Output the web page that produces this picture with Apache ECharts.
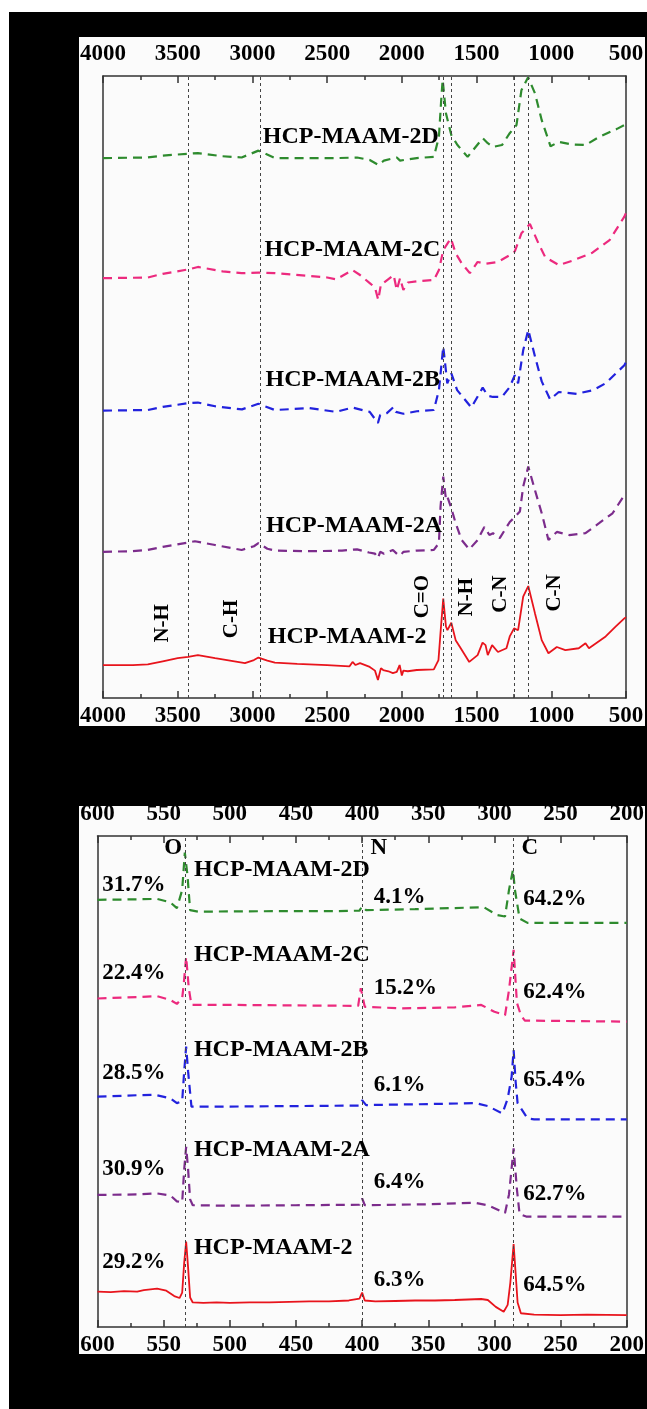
<!DOCTYPE html>
<html>
<head>
<meta charset="utf-8">
<script src="https://cdn.jsdelivr.net/npm/echarts@6/dist/echarts.min.js"></script>
<style>
  html, body { margin: 0; padding: 0; background: #fff; }
  #chart { width: 647px; height: 1409px; }
</style>
</head>
<body>
<div id="chart"></div>
<script>
// ---- FTIR (top panel): [wavenumber cm-1, offset intensity] ----
const ftir2 = [[4000,5.3],[3800,5.3],[3700,5.4],[3600,5.9],[3500,6.4],[3430,6.6],[3365,6.9],[3250,6.4],[3150,6.0],[3050,5.6],[2990,6.1],[2960,6.5],[2900,6.0],[2850,5.7],[2700,5.5],[2500,5.3],[2350,5.1],[2330,5.8],[2310,5.3],[2280,5.6],[2215,5.0],[2180,4.4],[2160,2.9],[2140,4.8],[2125,4.5],[2090,4.3],[2060,4.0],[2034,4.2],[2015,5.3],[2000,3.6],[1990,4.4],[1960,4.3],[1900,4.5],[1786,4.6],[1755,6.1],[1740,10.9],[1723,16.0],[1705,11.5],[1695,10.9],[1669,12.1],[1640,9.3],[1606,8.0],[1549,5.8],[1493,6.9],[1460,8.9],[1440,8.5],[1425,6.9],[1396,8.5],[1357,7.4],[1300,8.0],[1278,9.9],[1249,11.2],[1222,10.9],[1188,16.3],[1154,18.0],[1109,13.6],[1064,9.3],[1019,7.2],[963,8.2],[906,7.7],[816,8.0],[771,8.8],[748,8.0],[636,9.9],[568,11.5],[511,12.8],[500,13.0]];
const ftir2A = [[4000,23.5],[3800,23.6],[3700,23.8],[3600,24.3],[3430,25.0],[3385,25.2],[3250,24.6],[3072,23.8],[2990,24.4],[2960,24.9],[2900,24.0],[2847,23.7],[2600,23.6],[2400,23.7],[2300,23.9],[2220,23.4],[2180,23.2],[2160,22.5],[2145,23.5],[2120,23.2],[2060,23.8],[2030,23.1],[2010,22.9],[1990,23.5],[1900,23.7],[1786,23.8],[1752,24.9],[1741,30.8],[1723,35.6],[1705,32.0],[1696,32.4],[1669,30.5],[1640,28.1],[1600,25.4],[1549,23.9],[1493,25.4],[1448,27.5],[1414,26.2],[1390,26.5],[1345,25.7],[1278,28.3],[1244,29.1],[1210,30.0],[1188,34.0],[1154,37.2],[1109,33.4],[1064,29.7],[1019,25.4],[963,26.7],[880,26.2],[771,26.5],[680,28.1],[590,29.7],[511,32.6],[500,33.0]];
const ftir2B = [[4000,46.2],[3700,46.3],[3600,46.8],[3430,47.4],[3365,47.5],[3250,46.9],[3070,46.4],[2960,47.3],[2850,46.3],[2620,46.6],[2440,46.0],[2330,46.7],[2215,46.0],[2160,44.2],[2145,45.5],[2100,45.8],[2055,46.8],[2040,46.0],[1990,45.7],[1900,46.1],[1786,46.3],[1752,49.5],[1723,56.5],[1696,50.6],[1669,52.2],[1630,49.5],[1535,46.7],[1459,49.9],[1425,48.6],[1390,48.4],[1330,48.4],[1278,50.0],[1244,51.9],[1222,50.6],[1188,55.9],[1154,59.2],[1109,54.9],[1064,50.9],[1008,48.0],[950,49.2],[830,48.9],[720,49.5],[636,50.6],[511,53.5],[500,54.0]];
const ftir2C = [[4000,67.5],[3700,67.6],[3600,68.2],[3430,68.9],[3365,69.3],[3200,68.6],[3072,68.3],[2960,68.4],[2850,68.3],[2500,67.6],[2440,67.3],[2330,68.8],[2280,68.0],[2215,66.7],[2180,66.0],[2158,64.0],[2140,66.5],[2125,66.7],[2055,68.0],[2034,65.6],[2012,67.5],[1990,65.6],[1960,66.8],[1900,67.0],[1786,67.2],[1752,68.8],[1723,72.0],[1672,73.9],[1640,71.5],[1600,69.9],[1545,68.3],[1493,70.1],[1440,69.8],[1357,70.1],[1278,71.2],[1244,71.8],[1200,74.7],[1143,76.2],[1086,73.1],[1041,70.9],[950,69.6],[860,70.3],[725,71.6],[610,73.6],[511,77.4],[500,78.0]];
const ftir2D = [[4000,86.8],[3700,86.9],[3600,87.2],[3430,87.5],[3365,87.6],[3200,87.1],[3072,86.9],[2960,88.0],[2850,86.8],[2440,86.8],[2300,86.9],[2215,86.5],[2158,85.7],[2120,86.4],[2034,86.9],[2012,86.4],[1900,86.8],[1786,87.0],[1752,90.2],[1737,96.0],[1727,99.4],[1715,96.5],[1705,94.0],[1669,90.5],[1628,88.9],[1560,87.0],[1459,90.0],[1425,89.2],[1390,88.6],[1330,88.9],[1278,90.8],[1233,92.1],[1200,97.7],[1155,99.8],[1109,97.2],[1064,92.9],[1005,88.7],[950,89.4],[860,89.0],[770,88.9],[680,90.2],[560,91.5],[511,92.1],[500,92.3]];
const ftirMarks = [3430, 2950, 1725, 1670, 1245, 1155];
// sample names: [x left, y centre, text]
const ftirNames = [[2934,90.2,'HCP-MAAM-2D'],[2923,72.0,'HCP-MAAM-2C'],[2916,51.2,'HCP-MAAM-2B'],[2912,27.7,'HCP-MAAM-2A'],[2900,9.9,'HCP-MAAM-2']];
// band assignments (vertical text, centre)
const ftirBands = [[3602,12.0,'N-H'],[3138,12.7,'C-H'],[1860,16.3,'C=O'],[1566,16.2,'N-H'],[1340,16.7,'C-N'],[978,16.9,'C-N']];

// ---- XPS (bottom panel): [binding energy eV, offset intensity] ----
const xps2 = [[600,7.2],[590,7.1],[580,7.3],[570,7.2],[565,7.5],[555,7.8],[548,7.4],[542,6.3],[538,5.9],[536,7.0],[534.5,13],[533,17.4],[531.5,12],[530,6],[528,5.0],[520,4.9],[510,5.0],[500,4.9],[485,5.0],[470,5.0],[455,5.1],[440,5.2],[425,5.2],[410,5.4],[402,5.8],[400,7.0],[398,5.4],[390,5.2],[375,5.3],[360,5.4],[345,5.4],[330,5.5],[320,5.6],[310,5.7],[305,5.5],[299,4.1],[293,3.1],[290,4.5],[288,9],[285.5,16.9],[284,11],[282.5,5.0],[280,2.8],[270,2.5],[250,2.4],[230,2.5],[200,2.4]];
const xps2A = [[600,26.9],[570,27.0],[555,27.2],[545,26.8],[540,25.6],[536,25.4],[534.5,32],[533,36.7],[531.5,32],[530,26],[528,24.8],[500,24.7],[450,24.8],[402,24.9],[400,26.2],[398,24.8],[350,25.0],[315,25.3],[305,24.8],[292,23.2],[289,27],[285.5,36.4],[283,28],[281,23.0],[276,22.5],[200,22.5]];
const xps2B = [[600,46.9],[570,47.2],[557,47.3],[545,46.6],[540,45.6],[536,46],[534.5,52],[533,57.1],[531.5,52],[529,44.9],[500,44.9],[450,45.0],[402,45.1],[400,46.2],[397,45.2],[350,45.4],[314,45.6],[305,45.0],[294,43.5],[290,46.5],[287,51],[285.5,56.4],[284,50],[282.5,45.6],[275,42.5],[270,42.3],[200,42.3]];
const xps2C = [[600,66.9],[570,67.2],[555,67.4],[545,66.6],[540,65.8],[536,67],[535,69.3],[533,75.4],[531,69],[529,65.6],[500,65.6],[450,65.5],[403,65.4],[401,69.0],[398,65.2],[370,64.9],[330,65.1],[310,65.6],[300,64.2],[292,63.5],[289,68.6],[285.5,76.8],[283,66],[280,63.5],[277,62.4],[200,62.2]];
const xps2D = [[600,87.0],[570,87.1],[555,87.2],[545,86.5],[540,85.3],[536,89.0],[534,96.6],[532,92],[530,84.9],[524,84.6],[460,84.7],[420,84.7],[402,84.8],[400,85.7],[397,84.9],[360,85.1],[308,85.5],[298,83.9],[292,83.6],[289,89.0],[286,93.1],[284.5,89],[281,83.2],[275,82.3],[200,82.3]];
const xpsMarks = [533.5, 400, 285.5];
const xpsElements = [[549.9,97.5,'O'],[394.1,97.5,'N'],[279.9,97.5,'C']];
const xpsNames = [[527.5,93.1,'HCP-MAAM-2D'],[527.5,75.8,'HCP-MAAM-2C'],[527.5,56.4,'HCP-MAAM-2B'],[527.5,36.0,'HCP-MAAM-2A'],[527.5,16.2,'HCP-MAAM-2']];
const xpsPercents = [
  [596.7,90.0,'31.7%'],[391.5,87.6,'4.1%'],[278.6,87.1,'64.2%'],
  [596.7,72.0,'22.4%'],[391.5,69.0,'15.2%'],[278.6,68.2,'62.4%'],
  [596.7,51.8,'28.5%'],[391.5,49.3,'6.1%'],[278.6,50.2,'65.4%'],
  [596.7,32.1,'30.9%'],[391.5,29.6,'6.4%'],[278.6,27.1,'62.7%'],
  [596.7,13.2,'29.2%'],[391.5,9.6,'6.3%'],[278.6,8.6,'64.5%']
];

const colors = { d: '#2e8b2e', c: '#ec2a7e', b: '#2222dd', a: '#7c2c8c', r: '#e8141c' };
const serif = 'Liberation Serif';
const axisColor = '#333';

const chart = echarts.init(document.getElementById('chart'));

function xAxisCfg(grid, pos, min, max, interval, margin) {
  return {
    type: 'value', gridIndex: grid, position: pos, min, max, interval, inverse: true,
    axisLine: { show: true, onZero: false, lineStyle: { color: axisColor, width: 1.5 } },
    axisTick: { show: true, inside: true, length: 7, lineStyle: { color: axisColor, width: 1.5 } },
    minorTick: { show: true, splitNumber: 2, length: 4, lineStyle: { color: axisColor, width: 1.5 } },
    splitLine: { show: false },
    axisLabel: {
      show: true, margin, fontFamily: serif, fontWeight: 'bold', fontSize: 23, color: '#000',
      formatter: v => String(v)
    }
  };
}
function yAxisCfg(grid, pos) {
  return {
    type: 'value', gridIndex: grid, position: pos, min: 0, max: 100,
    axisLine: { show: true, lineStyle: { color: axisColor, width: 1.5 } },
    axisTick: { show: false }, axisLabel: { show: false }, splitLine: { show: false }
  };
}
function curve(data, color, dashed, idx) {
  return {
    type: 'line', xAxisIndex: idx, yAxisIndex: idx, data, symbol: 'none', z: 3,
    lineStyle: { color, width: dashed ? 2.2 : 1.8, type: dashed ? [9, 6] : 'solid' }
  };
}
function marks(values, idx) {
  return {
    type: 'line', xAxisIndex: idx, yAxisIndex: idx, data: [], symbol: 'none',
    markLine: {
      silent: true, symbol: ['none', 'none'], label: { show: false },
      lineStyle: { color: '#444', type: [3, 3], width: 1 },
      data: values.map(v => ({ xAxis: v }))
    }
  };
}
function texts(items, idx, size, rotated) {
  return {
    type: 'scatter', xAxisIndex: idx, yAxisIndex: idx, symbolSize: 1, silent: true, z: 5,
    itemStyle: { color: 'rgba(0,0,0,0)', opacity: 1 },
    data: items.map(t => ({ value: [t[0], t[1]], name: t[2] })),
    label: {
      show: true, formatter: '{b}', opacity: 1,
      position: rotated ? 'inside' : 'right', distance: 0,
      rotate: rotated ? 90 : 0, align: rotated ? 'center' : 'left', verticalAlign: 'middle',
      fontFamily: serif, fontWeight: 'bold', fontSize: size, color: '#000',
      textBorderWidth: 0
    }
  };
}

chart.setOption({
  animation: false,
  graphic: [
    { type: 'rect', z: -10, shape: { x: 9, y: 12, width: 638, height: 1397 }, style: { fill: '#000' } },
    { type: 'rect', z: -9, shape: { x: 79, y: 37, width: 566, height: 689 }, style: { fill: '#fbfbfb' } },
    { type: 'rect', z: -9, shape: { x: 79, y: 806, width: 566, height: 548 }, style: { fill: '#fbfbfb' } }
  ],
  grid: [
    { left: 103, top: 76, width: 523, height: 622 },
    { left: 97.5, top: 836, width: 530.5, height: 491 }
  ],
  xAxis: [
    xAxisCfg(0, 'bottom', 500, 4000, 500, 7),
    xAxisCfg(1, 'bottom', 200, 600, 50, 7),
    xAxisCfg(0, 'top', 500, 4000, 500, 10),
    xAxisCfg(1, 'top', 200, 600, 50, 10)
  ],
  yAxis: [yAxisCfg(0, 'left'), yAxisCfg(1, 'left'), yAxisCfg(0, 'right'), yAxisCfg(1, 'right')],
  series: [
    marks(ftirMarks, 0),
    curve(ftir2D, colors.d, true, 0),
    curve(ftir2C, colors.c, true, 0),
    curve(ftir2B, colors.b, true, 0),
    curve(ftir2A, colors.a, true, 0),
    curve(ftir2, colors.r, false, 0),
    texts(ftirNames, 0, 24, false),
    texts(ftirBands, 0, 21, true),
    marks(xpsMarks, 1),
    curve(xps2D, colors.d, true, 1),
    curve(xps2C, colors.c, true, 1),
    curve(xps2B, colors.b, true, 1),
    curve(xps2A, colors.a, true, 1),
    curve(xps2, colors.r, false, 1),
    texts(xpsElements, 1, 23, false),
    texts(xpsNames, 1, 24, false),
    texts(xpsPercents, 1, 23, false)
  ]
});
</script>
</body>
</html>
